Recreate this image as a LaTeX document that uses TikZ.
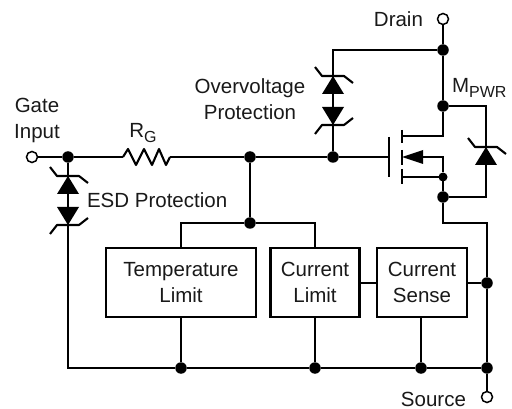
\documentclass[tikz,border=0pt]{standalone}
\usepackage{fontspec}
\setmainfont{Liberation Sans}
\newcommand{\lowtxt}[1]{\raisebox{-.25em}{\fontsize{16}{16}\selectfont #1}}
\tikzset{
    pics/zenerup/.style={code={
        \fill (0,0) -- (11,18) -- (-11,18) -- cycle;
        \draw[line join=round] (-18,-9) -- (-11,0) -- (11,0) -- (20,7);
    }}
}
\begin{document}
\begin{tikzpicture}[x=1pt,y=-1pt,line width=2.1pt,
        dot/.style={circle,fill=black,minimum size=11.5pt,inner sep=0pt,
            outer sep=0pt},
        smalldot/.style={dot,minimum size=9pt},
        pin/.style={circle,draw,fill=white,line width=1.5pt,minimum size=11pt,
            inner sep=0pt,outer sep=0pt},
        txt/.style={font=\fontsize{20.5}{26}\selectfont,inner sep=0pt,align=center,
            text=black!90},
        block/.style={draw,line width=2.2pt,inner sep=0pt,outer sep=0pt,align=center,
            font=\fontsize{20.5}{26}\selectfont,text=black!90}]
\useasboundingbox (0,0) rectangle (512,409);

% terminals
\node[pin] (gatepin) at (32,157) {};
\node[pin] (drainpin) at (443,19) {};
\node[pin] (sourcepin) at (487,397) {};

% junctions
\node[dot] (gatedot) at (68,157) {};
\node[dot] (sensedot) at (250,157) {};
\node[dot] (ovpdot) at (333,157) {};
\node[dot] (draintop) at (443,50) {};
\node[dot] (drainmid) at (443,106) {};
\node[smalldot] (srcsmall) at (443,177) {};
\node[dot] (srcdot) at (443,197) {};
\node[dot] (limitdot) at (250,223) {};
\node[dot] (rightdot) at (487,283) {};
\node[dot] (tempgnd) at (181,368) {};
\node[dot] (limitgnd) at (315,368) {};
\node[dot] (sensegnd) at (421,368) {};
\node[dot] (railend) at (487,368) {};
\coordinate (ovptop) at (333,50);
\coordinate (esdlow) at (68,368);
\coordinate (srcbend) at (443,223);
\coordinate (rightbend) at (487,223);
\coordinate (bodytop) at (486,106);
\coordinate (bodylow) at (486,197);
\coordinate (rgin) at (123,157);
\coordinate (rgout) at (170,157);
\coordinate (gateplate) at (389,157);
\coordinate (draintap) at (443,136);
\coordinate (chdrain) at (402,136);
\coordinate (arrowtip) at (402,157);
\coordinate (arrowbase) at (423,157);
\coordinate (bulkbend) at (443,157);
\coordinate (chsource) at (402,177);

% blocks
\node[block,minimum width=150pt,minimum height=69pt] (templimit) at (181,282.5) {Temperature\\Limit};
\node[block,minimum width=89pt,minimum height=69pt] (currlimit) at (315,282.5) {Current\\Limit};
\node[block,minimum width=90pt,minimum height=69pt] (currsense) at (422,282.5) {Current\\Sense};

% wiring
\draw (gatepin) -- (gatedot) -- (rgin);
\draw[line join=round] (rgin) -- ++(5,-8) -- ++(8,16) -- ++(8,-16) -- ++(8,16) -- ++(7,-16) -- ++(7,16) -- (rgout);
\draw (rgout) -- (sensedot) -- (ovpdot) -- (gateplate);
\draw (drainpin) -- (draintop) -- (drainmid) -- (draintap) -- (chdrain);
\draw (draintop) -- (ovptop) -- (ovpdot);
\draw (drainmid) -- (bodytop) -- (bodylow) -- (srcdot);
\draw (arrowbase) -- (bulkbend) -- (srcsmall) -- (srcdot) -- (srcbend) -- (rightbend) -- (rightdot) -- (railend) -- (sourcepin);
\draw (chsource) -- (srcsmall);
\draw (sensedot) -- (limitdot);
\draw (templimit.north) |- (limitdot) -| (currlimit.north);
\draw (gatedot) -- (esdlow) -- (tempgnd) -- (limitgnd) -- (sensegnd) -- (railend);
\draw (templimit.south) -- (tempgnd);
\draw (currlimit.south) -- (limitgnd);
\draw (sensegnd |- currsense.south) -- (sensegnd);
\draw[line width=1.7pt] (currlimit.east |- rightdot) -- (currsense.west |- rightdot);
\draw[line width=1.7pt] (currsense.east |- rightdot) -- (rightdot);

% zeners
\pic at (68,176) {zenerup};
\pic[yscale=-1] at (68,225) {zenerup};
\pic at (333,76) {zenerup};
\pic[yscale=-1] at (333,125) {zenerup};
\pic at (486,147) {zenerup};

% mosfet
\fill (arrowtip) -- (arrowbase |- 0,150) -- (arrowbase |- 0,164) -- cycle;
\draw (389,137) -- (389,177);
\draw (402,130) -- (402,143);
\draw (402,150) -- (402,165);
\draw (402,169) -- (402,184);

% labels
\node[txt,anchor=east] (drainlbl) at (424,19) {Drain};
\node[txt,anchor=east] (sourcelbl) at (467,399) {Source};
\node[txt] (gatelbl) at (37,120) {Gate\\Input};
\node[txt] (rglbl) at (143,133) {R\lowtxt{G}};
\node[txt] (ovplbl) at (250,99) {Overvoltage\\Protection};
\node[txt,anchor=west] (esdlbl) at (86,200) {ESD Protection};
\node[txt,anchor=west] (mpwrlbl) at (451,88) {M\lowtxt{PWR}};
\end{tikzpicture}
\end{document}
